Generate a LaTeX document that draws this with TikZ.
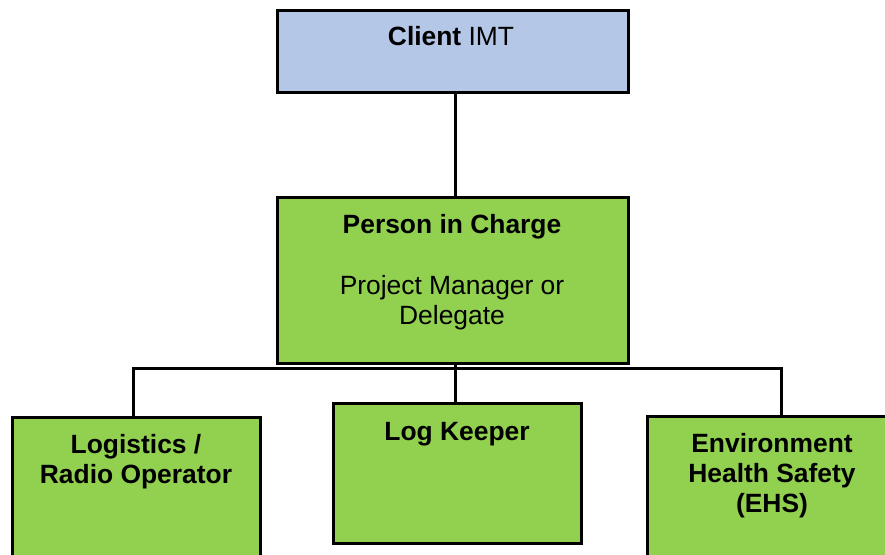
\documentclass[tikz,border=0pt]{standalone}
\usepackage{fontspec}
\setmainfont{Liberation Sans}
\definecolor{imtblue}{HTML}{B4C7E7}
\definecolor{rolegreen}{HTML}{92D050}
\begin{document}
\begin{tikzpicture}[x=1pt,y=-1pt,
  orgbox/.style={draw=black, line width=3pt, rectangle, anchor=north west,
    inner sep=0pt, outer sep=0pt},
  clientbox/.style={orgbox, fill=imtblue},
  rolebox/.style={orgbox, fill=rolegreen},
  % base anchor of a multi-line label sits on its last line
  boxtext/.style={anchor=base, align=center, inner sep=0pt,
    font=\fontsize{26.4}{30}\selectfont},
  link/.style={draw=black, line width=3pt}]
\useasboundingbox (0,0) rectangle (885,554);

% boxes
\node[clientbox, minimum width=351, minimum height=82] (client) at (277,10) {};
\node[rolebox, minimum width=351, minimum height=166] (pic) at (277,197) {};
\node[rolebox, minimum width=248, minimum height=180] (logi) at (12,417) {};
\node[rolebox, minimum width=248, minimum height=140] (logk) at (333,403) {};
\node[rolebox, minimum width=250, minimum height=180] (ehs) at (647,416) {};

% labels
\node[boxtext] (clientlbl) at (451,45) {\textbf{Client} IMT};
\node[boxtext] (piclbl) at (452,233) {\textbf{Person in Charge}};
\node[boxtext] (picsub) at (452,324) {Project Manager or\\Delegate};
\node[boxtext] (logilbl) at (136,483) {\textbf{Logistics /}\\\textbf{Radio Operator}};
\node[boxtext] (logklbl) at (457,440) {\textbf{Log Keeper}};
\node[boxtext] (ehslbl) at (772,512) {\textbf{Environment}\\\textbf{Health Safety}\\\textbf{(EHS)}};

% connectors
\coordinate (trunk) at (455,0);
\coordinate (busL) at (133,368);
\coordinate (busR) at (781,368);
\draw[link] (trunk |- client.south) -- (trunk |- pic.north);
\draw[link] (trunk |- pic.south) -- (trunk |- logk.north);
\draw[link] (busL |- logi.north) -- (busL) -- (busR) -- (busR |- ehs.north);
\end{tikzpicture}
\end{document}
